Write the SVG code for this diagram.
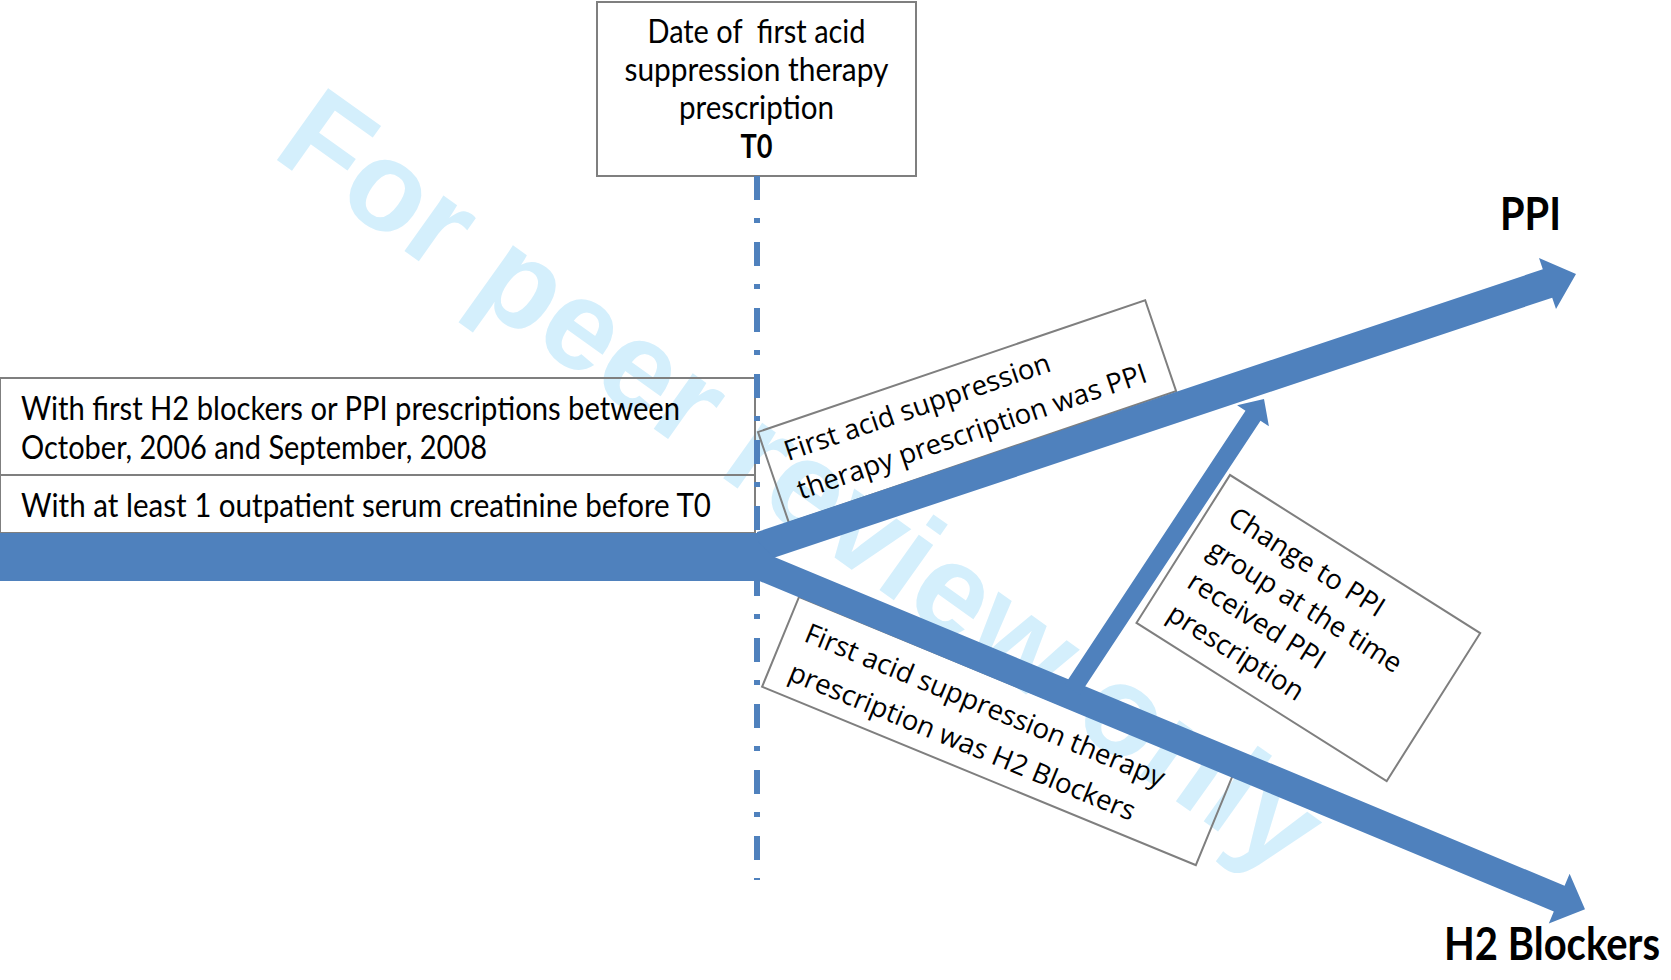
<svg xmlns="http://www.w3.org/2000/svg" width="1671" height="980" viewBox="0 0 1671 980">
<style>
.box{fill:#fff;stroke:#7f7f7f;stroke-width:2}
.boxl{fill:none;stroke:#7f7f7f;stroke-width:2}
.cal{font-family:Lato,"Liberation Sans",sans-serif;font-size:32.5px;fill:#000}
.rot{font-family:"Open Sans","Noto Sans",sans-serif;font-size:27.6px;fill:#000}
.big{font-family:Lato,"Liberation Sans",sans-serif;font-size:46px;font-weight:bold;fill:#000}
.blue{fill:#4F81BD}
.wm{font-family:"Liberation Sans",Arial,sans-serif;font-size:128px;font-weight:bold;fill:#D4EFFC}
</style>
<rect width="1671" height="980" fill="#fff"/>
<g id="fills">
<rect x="597" y="2" width="319" height="174" fill="#fff"/>
<rect x="0" y="378" width="755" height="97" fill="#fff"/>
<rect x="0" y="475" width="755" height="58" fill="#fff"/>
<rect transform="translate(758,432) rotate(-18.8)" x="0" y="0" width="409" height="96" fill="#fff"/>
<rect transform="translate(799,597) rotate(22.36)" x="0" y="0" width="469" height="97" fill="#fff"/>
<rect transform="translate(1230,475) rotate(32.3)" x="0" y="0" width="296" height="175" fill="#fff"/>
</g>
<text class="wm" transform="translate(270,155) rotate(35.5)" x="0" y="0">For peer review only</text>
<g id="t0-box">
<rect class="boxl" x="597" y="2" width="319" height="174"/>
<text class="cal" x="756.5" y="43" text-anchor="middle" xml:space="preserve" textLength="218" lengthAdjust="spacingAndGlyphs">Date of  first acid</text>
<text class="cal" x="756.5" y="81" text-anchor="middle" textLength="264" lengthAdjust="spacingAndGlyphs">suppression therapy</text>
<text class="cal" x="756.5" y="119" text-anchor="middle" textLength="155" lengthAdjust="spacingAndGlyphs">prescription</text>
<text class="cal" x="756.5" y="158" text-anchor="middle" font-weight="bold" textLength="32" lengthAdjust="spacingAndGlyphs">T0</text>
</g>
<g id="criteria1">
<rect class="boxl" x="0" y="378" width="755" height="97"/>
<text class="cal" x="21" y="420" textLength="659" lengthAdjust="spacingAndGlyphs">With first H2 blockers or PPI prescriptions between</text>
<text class="cal" x="21" y="459" textLength="466" lengthAdjust="spacingAndGlyphs">October, 2006 and September, 2008</text>
</g>
<g id="criteria2">
<rect class="boxl" x="0" y="475" width="755" height="58"/>
<text class="cal" x="21" y="517" textLength="690" lengthAdjust="spacingAndGlyphs">With at least 1 outpatient serum creatinine before T0</text>
</g>
<g id="ppi-label-box" transform="translate(758,432) rotate(-18.8)">
<rect class="boxl" x="0" y="0" width="409" height="96"/>
<text class="rot" x="19" y="37">First acid suppression</text>
<text class="rot" x="19" y="78">therapy prescription was PPI</text>
</g>
<g id="h2-label-box" transform="translate(799,597) rotate(22.36)">
<rect class="boxl" x="0" y="0" width="469" height="97"/>
<text class="rot" x="20" y="39">First acid suppression therapy</text>
<text class="rot" x="20" y="81">prescription was H2 Blockers</text>
</g>
<g id="change-box" transform="translate(1230,475) rotate(32.3)">
<rect class="boxl" x="0" y="0" width="296" height="175"/>
<text class="rot" x="22" y="42">Change to PPI</text>
<text class="rot" x="22" y="80">group at the time</text>
<text class="rot" x="22" y="118">received PPI</text>
<text class="rot" x="22" y="156">prescription</text>
</g>
<g id="connectors">
<line x1="757" y1="176" x2="757" y2="880" stroke="#4F81BD" stroke-width="6" stroke-dasharray="24 18 5 19"/>
<rect class="blue" x="0" y="533" width="759" height="48"/>
<polygon class="blue" points="757,532 1542.8,269.3 1539,257.9 1576,274 1556,309.1 1552.2,297.7 760,562.3 757,562"/>
<polygon class="blue" points="757,540 772,555.9 1564.6,885.7 1569.6,873.7 1585,909.3 1548.8,923.5 1553.8,911.5 757,580"/>
<polygon class="blue" points="1064.5,685 1245.5,410.7 1237.1,405.2 1264,399 1268.9,426.2 1260.5,420.7 1079.5,695"/>
</g>
<g id="ppi-label"><text class="big" x="1500" y="230" textLength="61" lengthAdjust="spacingAndGlyphs">PPI</text></g>
<g id="h2-label"><text class="big" x="1444" y="960" font-size="44" textLength="216" lengthAdjust="spacingAndGlyphs">H2 Blockers</text></g>
</svg>
